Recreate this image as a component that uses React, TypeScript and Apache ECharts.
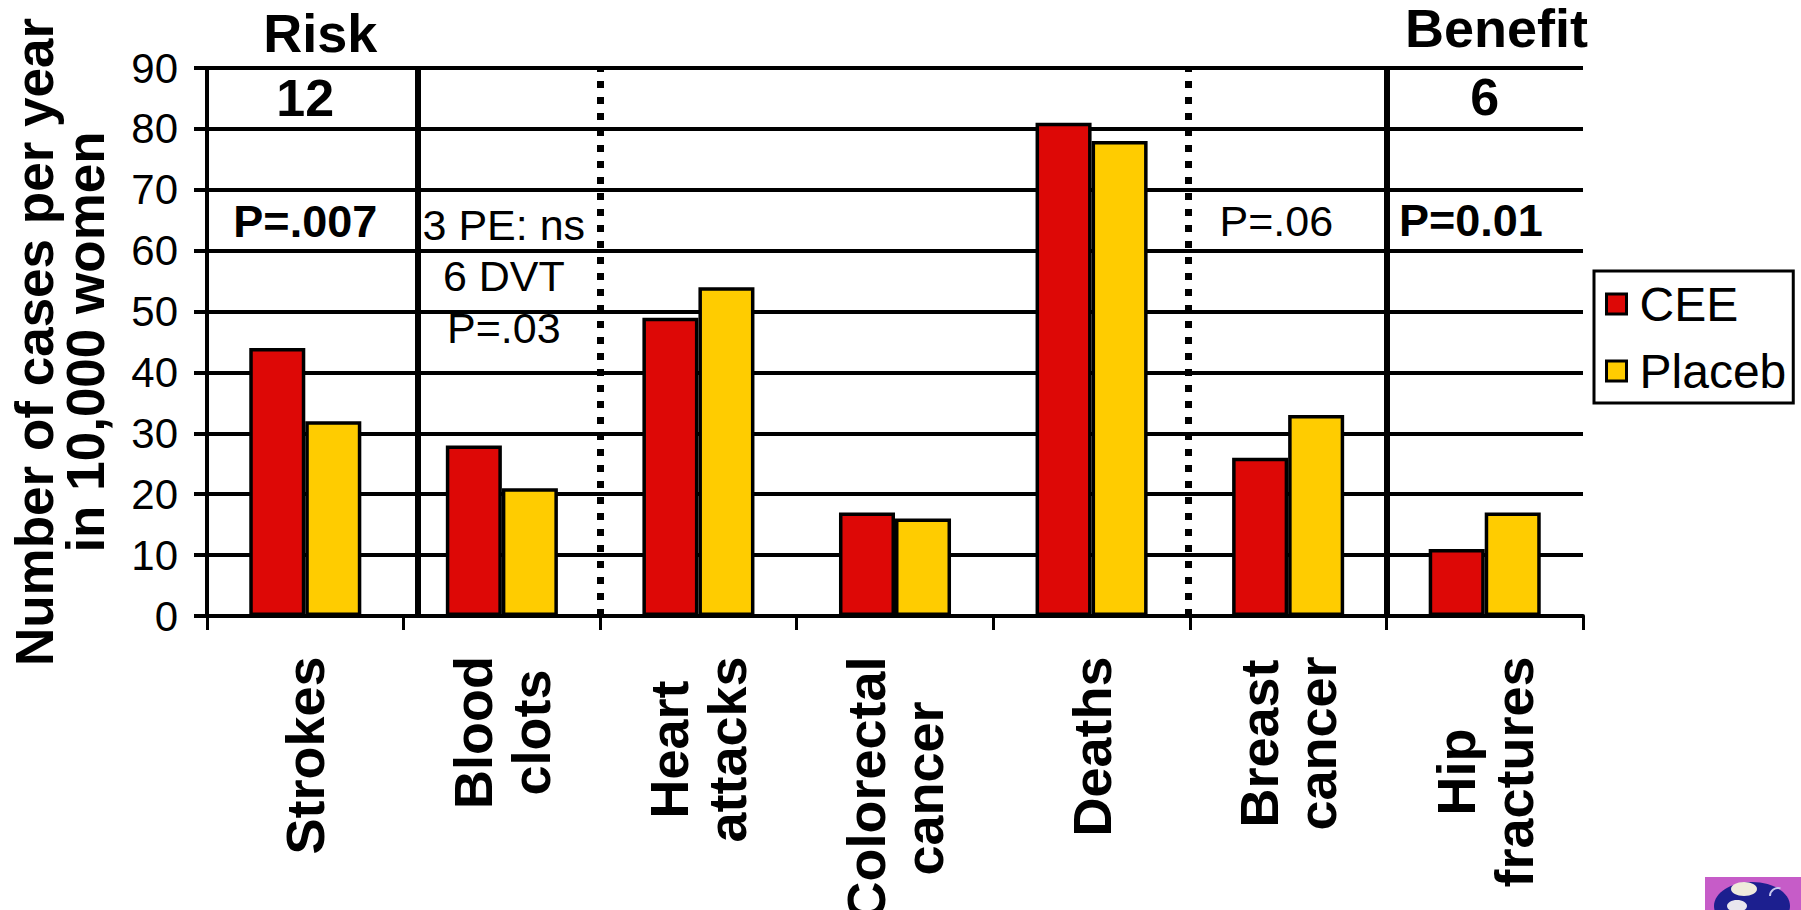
import React, { useEffect, useRef } from 'react';
import * as echarts from 'echarts';

const FONT = '"Liberation Sans", Arial, sans-serif';

// Outcomes (rates per 10,000 women per year)
const categories = [
  'Strokes',
  'Blood\nclots',
  'Heart\nattacks',
  'Colorectal\ncancer',
  'Deaths',
  'Breast\ncancer',
  'Hip\nfractures',
];
const ceeValues = [44, 28, 49, 17, 81, 26, 11];
const placeboValues = [32, 21, 54, 16, 78, 33, 17];

const yMin = 0;
const yMax = 90;
const yStep = 10;

// Annotations, positioned in category units (0..7) and axis values
const noteTexts = ['Risk', 'Benefit', '12', '6', 'P=.007', '3 PE: ns\n6 DVT\nP=.03', 'P=.06', 'P=0.01'];
const noteX = [0.576, 6.56, 0.5, 6.5, 0.5, 1.51, 5.44, 6.43];
const noteY = [95.7, 96.5, 85, 85.2, 64.8, 55.8, 64.8, 64.9];
const noteBold = [true, true, true, true, true, false, false, true];
const noteSize = [54, 54, 52, 52, 45, 43, 43, 45];
const noteLineHeight = [44, 44, 52, 52, 50, 51.5, 50, 50];

// Section dividers in category units
const solidDividers = [1.07, 6];
const dottedDividers = [2, 4.99];

function textWidth(s: string, font: string): number {
  const ctx = document.createElement('canvas').getContext('2d');
  if (!ctx) return s.length * 30;
  ctx.font = font;
  return ctx.measureText(s).width;
}

export default function App() {
  const ref = useRef<HTMLDivElement>(null);

  useEffect(() => {
    const el = ref.current;
    if (!el) return;
    const chart = echarts.init(el, null, { renderer: 'svg' });

    // Two-line category labels are centred line by line inside a box
    // as wide as their longest line.
    const catFontSize = 54;
    const catFont = `bold ${catFontSize}px ${FONT}`;
    const rich: Record<string, any> = {};
    categories.forEach((c, i) => {
      const w = Math.max(...c.split('\n').map((l) => textWidth(l, catFont)));
      rich['c' + i] = {
        width: Math.ceil(w),
        align: 'center',
        fontSize: catFontSize,
        fontWeight: 'bold',
        fontFamily: FONT,
        lineHeight: 58,
        color: '#000',
      };
    });

    const option: any = {
      animation: false,
      backgroundColor: '#fff',
      grid: {
        left: 207,
        right: 218,
        top: 68,
        bottom: 294,
        containLabel: false,
        outerBoundsMode: 'none',
      },
      legend: {
        data: ['CEE', 'Placebo'],
        orient: 'vertical',
        left: 1594,
        top: 271,
        padding: [9, 7, 8, 11],
        itemGap: 19,
        itemWidth: 20,
        itemHeight: 20,
        icon: 'rect',
        borderColor: '#000',
        borderWidth: 3,
        borderRadius: 0,
        backgroundColor: '#fff',
        selectedMode: false,
        itemStyle: { borderColor: '#000', borderWidth: 3 },
        formatter: (name: string) => (name === 'Placebo' ? 'Placeb' : name),
        textStyle: {
          fontSize: 48,
          fontFamily: FONT,
          color: '#000',
          lineHeight: 46,
          padding: [0, 0, 0, 8],
        },
      },
      xAxis: [
        {
          type: 'category',
          data: categories,
          boundaryGap: true,
          axisLine: { show: true, lineStyle: { color: '#000', width: 4 } },
          axisTick: { show: true, interval: 0, length: 14, lineStyle: { color: '#000', width: 3 } },
          axisLabel: {
            interval: 0,
            rotate: 90,
            margin: 40,
            formatter: (v: string, i: number) =>
              v
                .split('\n')
                .map((l) => `{c${i}|${l}}`)
                .join('\n'),
            rich,
          },
          splitLine: { show: false },
        },
        {
          type: 'value',
          min: 0,
          max: categories.length,
          show: false,
        },
      ],
      yAxis: {
        type: 'value',
        min: yMin,
        max: yMax,
        interval: yStep,
        name: 'Number of cases per year\nin 10,000 women',
        nameLocation: 'middle',
        nameGap: 96,
        nameTextStyle: {
          fontSize: 53,
          fontWeight: 'bold',
          fontFamily: FONT,
          color: '#000',
          lineHeight: 51,
        },
        axisLine: { show: true, lineStyle: { color: '#000', width: 4 } },
        axisTick: { show: true, length: 13, lineStyle: { color: '#000', width: 4 } },
        axisLabel: { fontSize: 42, fontFamily: FONT, color: '#000', margin: 29 },
        splitLine: { show: true, lineStyle: { color: '#000', width: 4 } },
      },
      series: [
        {
          name: 'CEE',
          type: 'bar',
          data: ceeValues,
          barGap: '0%',
          barCategoryGap: '43%',
          itemStyle: { color: '#DD0806', borderColor: '#000', borderWidth: 3.5 },
          silent: true,
        },
        {
          name: 'Placebo',
          type: 'bar',
          data: placeboValues,
          barGap: '0%',
          barCategoryGap: '43%',
          itemStyle: { color: '#FFCC00', borderColor: '#000', borderWidth: 3.5 },
          silent: true,
        },
        {
          name: 'notes',
          type: 'scatter',
          xAxisIndex: 1,
          yAxisIndex: 0,
          silent: true,
          clip: false,
          symbolSize: 1,
          itemStyle: { color: 'rgba(0,0,0,0)', opacity: 1 },
          data: noteTexts.map((t, i) => ({
            value: [noteX[i], noteY[i]],
            label: {
              show: true,
              position: 'inside',
              formatter: t,
              fontSize: noteSize[i],
              fontWeight: noteBold[i] ? 'bold' : 'normal',
              fontFamily: FONT,
              color: '#000',
              opacity: 1,
              lineHeight: noteLineHeight[i],
              align: 'center',
            },
          })),
          markLine: {
            silent: true,
            symbol: ['none', 'none'],
            label: { show: false },
            data: [
              ...solidDividers.map((x) => ({
                xAxis: x,
                lineStyle: { color: '#000', width: 6, type: 'solid' },
              })),
              ...dottedDividers.map((x) => ({
                xAxis: x,
                lineStyle: { color: '#000', width: 7, type: [7, 9] },
              })),
            ],
          },
        },
      ],
      graphic: [
        {
          type: 'group',
          silent: true,
          children: [
            { type: 'rect', shape: { x: 1705, y: 877, width: 96, height: 40 }, style: { fill: '#C65CC8' } },
            { type: 'ellipse', shape: { cx: 1752, cy: 906, rx: 38, ry: 24 }, style: { fill: '#1C1F8F' } },
            { type: 'ellipse', shape: { cx: 1744, cy: 889, rx: 13, ry: 7 }, style: { fill: '#EFEBDC' } },
            { type: 'ellipse', shape: { cx: 1737, cy: 906, rx: 10, ry: 6 }, style: { fill: '#E9E6EE' } },
            { type: 'arc', shape: { cx: 1778, cy: 896, r: 8, startAngle: Math.PI, endAngle: Math.PI * 1.6 }, style: { stroke: '#C8C8EE', lineWidth: 2, fill: 'none' } },
          ],
        },
      ],
    };

    chart.setOption(option);
    return () => chart.dispose();
  }, []);

  return (
    <div
      ref={ref}
      style={{ position: 'absolute', left: 0, top: 0, width: 1801, height: 910, background: '#fff' }}
    />
  );
}
